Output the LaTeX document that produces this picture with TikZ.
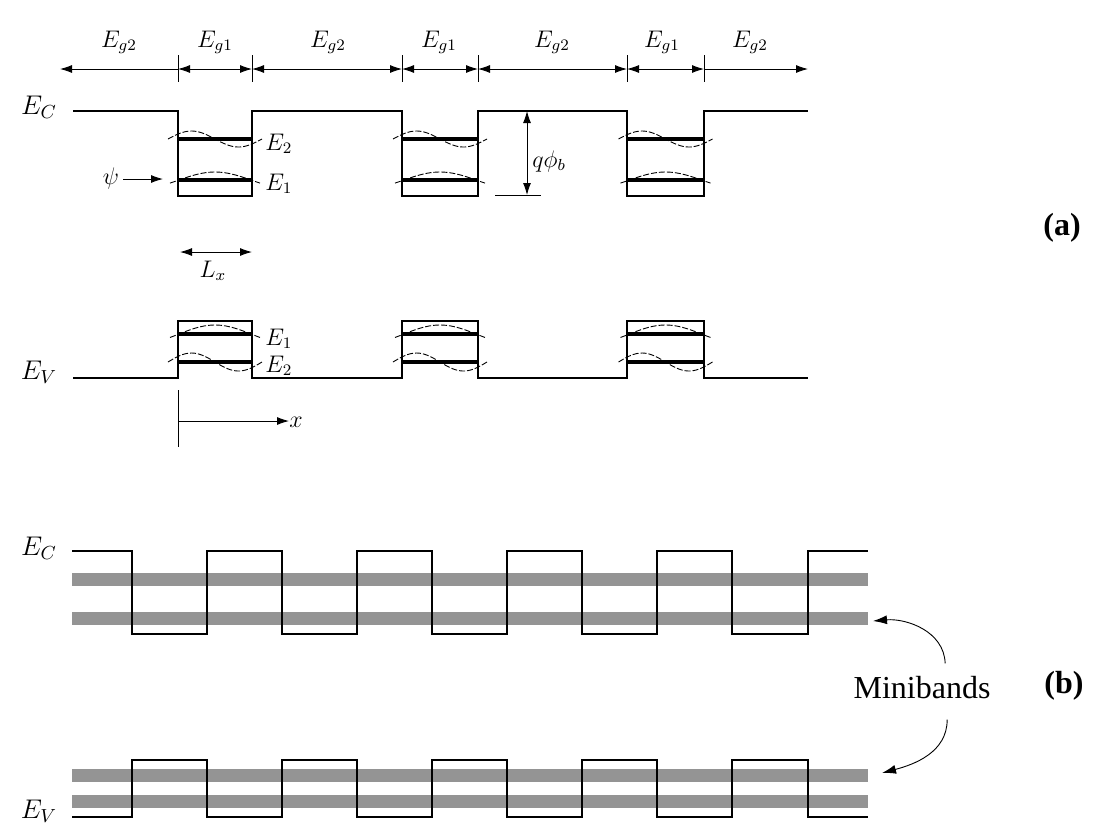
\RequirePackage{fix-cm}
\documentclass[tikz,border=0pt]{standalone}
\usepackage{fontspec}
\setmainfont{Liberation Serif}
\usetikzlibrary{arrows.meta}
\tikzset{
  bandline/.style={line width=0.75pt, line join=miter},
  levelline/.style={line width=1.6pt},
  wavefn/.style={dash pattern=on 3pt off 1pt, line width=0.45pt},
  dimline/.style={line width=0.45pt},
  dimboth/.style={dimline, {Latex[length=6pt,width=4pt]}-{Latex[length=6pt,width=4pt]}},
  dimone/.style={dimline, -{Latex[length=6pt,width=4pt]}},
  minibandbar/.style={fill=black!42, draw=none},
  lbl/.style={font=\fontsize{12}{14}\selectfont, inner sep=0pt},
  lblbig/.style={font=\fontsize{13.5}{15}\selectfont, inner sep=0pt},
  tag/.style={font=\fontsize{16}{18}\selectfont\bfseries, inner sep=0pt}
}
\begin{document}
\begin{tikzpicture}[x=0.5pt, y=-0.5pt]
  \useasboundingbox (0,0) rectangle (1095,837);

  % (a) widths of the layers
  \foreach \t in {178,252,402,478,627,704}
    \draw[dimline] (\t,55) -- (\t,82);
  \draw[dimone] (178,69) -- (60,69);
  \foreach \a/\b in {178/252,252/402,402/478,478/627,627/704}
    \draw[dimboth] (\a,69) -- (\b,69);
  \draw[dimone] (704,69) -- (808,69);
  \node[lbl, anchor=base] (gapa) at (119,47) {$E_{g2}$};
  \node[lbl, anchor=base] (gapb) at (215,47) {$E_{g1}$};
  \node[lbl, anchor=base] (gapc) at (328,47) {$E_{g2}$};
  \node[lbl, anchor=base] (gapd) at (439,47) {$E_{g1}$};
  \node[lbl, anchor=base] (gape) at (552,47) {$E_{g2}$};
  \node[lbl, anchor=base] (gapf) at (662,47) {$E_{g1}$};
  \node[lbl, anchor=base] (gapg) at (750,47) {$E_{g2}$};

  % (a) conduction band
  \node[lblbig, anchor=base] (eca) at (39,114) {$E_C$};
  \draw[bandline] (73,111) -| (178,196) -| (252,111) -| (402,196) -| (478,111)
    -| (627,196) -| (704,111) -- (808,111);
  \foreach \l/\r in {178/252,402/478,627/704} {
    \pgfmathsetmacro\c{(\l+\r)/2}
    \draw[levelline] (\l,139) -- (\r,139);
    \draw[levelline] (\l,180) -- (\r,180);
    \draw[wavefn] plot[domain=-47:47, samples=40] ({\c+\x}, {139+8*sin(3.83*\x)});
    \draw[wavefn] plot[domain=-45:45, samples=40] ({\c+\x}, {180-8*cos(2.5*\x)});
  }
  \node[lbl, anchor=base west] (ctwo) at (265,150) {$E_2$};
  \node[lbl, anchor=base west] (cone) at (265,190) {$E_1$};
  \node[lbl, anchor=base] (psi) at (111,184) {$\psi$};
  \coordinate (psitip) at (163,179);
  \draw[dimone] (psi.east |- psitip) ++(4,0) -- (psitip);

  % barrier height
  \draw[dimline] (495,195) -- (541,195);
  \draw[dimboth] (527,111) -- (527,195);
  \node[lbl, anchor=west] (qphi) at (532,161) {$q\phi_b$};

  \node[tag] (taga) at (1062,228) {(a)};

  % well width
  \draw[dimboth] (180,252) -- (252,252);
  \node[lbl, anchor=base] (lx) at (213,277) {$L_x$};

  % (a) valence band
  \node[lblbig, anchor=base] (eva) at (39,379) {$E_V$};
  \draw[bandline] (73,378) -| (178,321) -| (252,378) -| (402,321) -| (478,378)
    -| (627,321) -| (704,378) -- (808,378);
  \foreach \l/\r in {178/252,402/478,627/704} {
    \pgfmathsetmacro\c{(\l+\r)/2}
    \draw[levelline] (\l,334) -- (\r,334);
    \draw[levelline] (\l,362) -- (\r,362);
    \draw[wavefn] plot[domain=-45:45, samples=40] ({\c+\x}, {334-9*cos(2.5*\x)});
    \draw[wavefn] plot[domain=-47:47, samples=40] ({\c+\x}, {362+9*sin(3.83*\x)});
  }
  \node[lbl, anchor=base west] (vone) at (265,345) {$E_1$};
  \node[lbl, anchor=base west] (vtwo) at (265,372) {$E_2$};

  % x axis
  \draw[dimline] (178,390) -- (178,447);
  \coordinate (xorig) at (178,421);
  \node[lbl, anchor=base west] (xlbl) at (289,427) {$x$};
  \draw[dimone] (xorig) -- (xlbl.west |- xorig);

  % (b) minibands
  \foreach \m in {579,618,775,801}
    \fill[minibandbar] (72,\m-6.5) rectangle (868,\m+6.5);
  \node[lblbig, anchor=base] (ecb) at (39,555) {$E_C$};
  \draw[bandline] (72,551) -| (132,634) -| (207,551) -| (282,634) -| (357,551)
    -| (432,634) -| (507,551) -| (582,634) -| (657,551) -| (732,634)
    -| (808,551) -- (868,551);
  \node[lblbig, anchor=base] (evb) at (39,818) {$E_V$};
  \draw[bandline] (72,817) -| (132,760) -| (207,817) -| (282,760) -| (357,817)
    -| (432,760) -| (507,817) -| (582,760) -| (657,817) -| (732,760)
    -| (808,817) -- (868,817);

  \node[font=\fontsize{16}{18}\selectfont, inner sep=0pt] (mini) at (922,688) {Minibands};
  \coordinate (bandc) at (873,621);
  \coordinate (bandv) at (882,773);
  \draw[dimline, -{Latex[length=7pt,width=4.5pt]}] ([xshift=46pt,yshift=6.5pt]mini.north west)
    to[out=92, in=5] (bandc);
  \draw[dimline, -{Latex[length=7pt,width=4.5pt]}] ([xshift=47pt,yshift=-10pt]mini.south west)
    to[out=-90, in=15] (bandv);

  \node[tag] (tagb) at (1064,686) {(b)};
\end{tikzpicture}
\end{document}
